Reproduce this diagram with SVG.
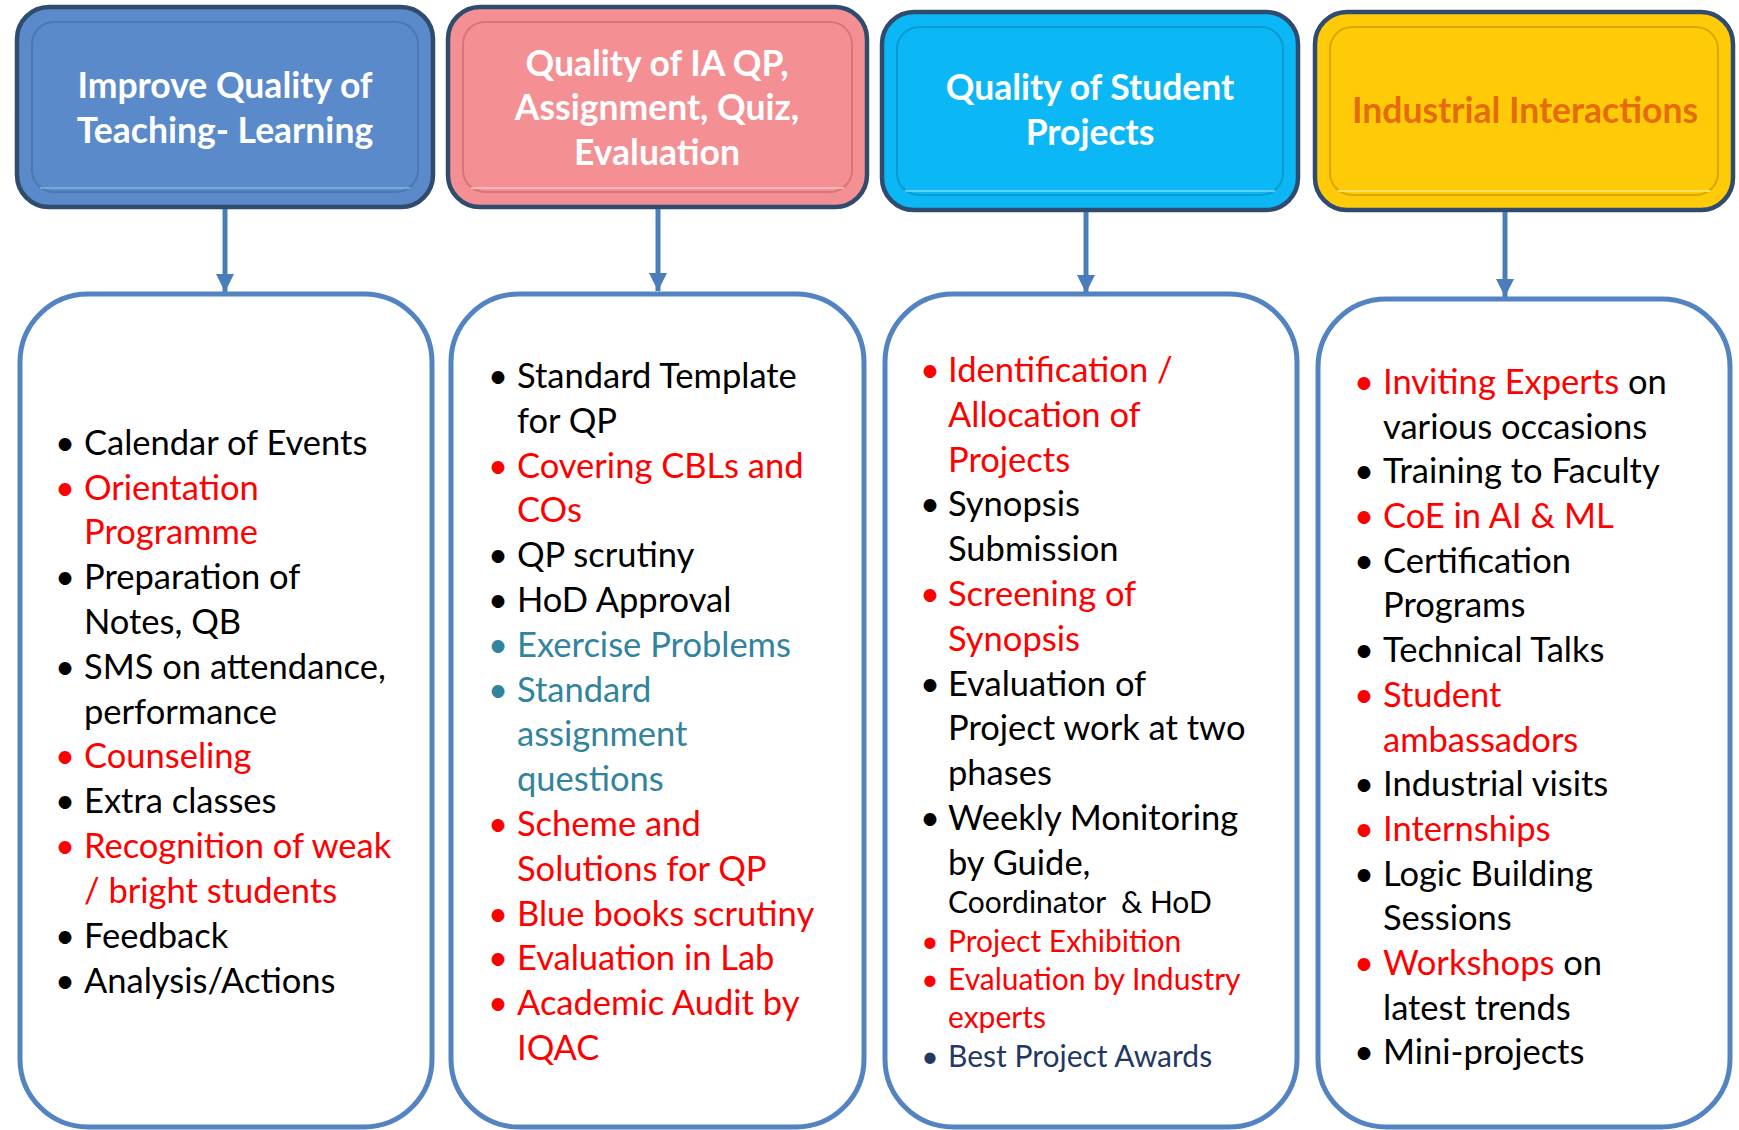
<svg xmlns="http://www.w3.org/2000/svg" width="1739" height="1130" viewBox="0 0 1739 1130">
<defs>
<style>
.hdr-outer{stroke:#2F4B6E;stroke-width:4.5}
.hdr-inner{fill:none;stroke-width:2}
.htxt{font-family:Lato,"Open Sans",sans-serif;font-weight:bold;font-size:35.5px;text-anchor:middle;fill:#FFFFFF}
.body{fill:#FFFFFF;stroke:#5384C1;stroke-width:5}
.t{font-family:Lato,"Open Sans",sans-serif;font-size:34.5px;fill:#000000}
.s{font-size:30px}
.b{text-anchor:middle}
.red{fill:#FF0000}
.teal{fill:#31849B}
.navy{fill:#1F3864}
.conn{stroke:#4A7EBB;stroke-width:5;fill:none}
</style>
<marker id="ah" markerUnits="userSpaceOnUse" markerWidth="20" markerHeight="18" refX="18" refY="9" orient="auto">
<path d="M0,0 L18,9 L0,18 Z" fill="#4A7EBB"/>
</marker>
</defs>
<rect width="1739" height="1130" fill="#FFFFFF"/>

<g id="header1">
<rect class="hdr-outer" x="17" y="7" width="416" height="200" rx="32" fill="#5A8ACA"/>
<rect class="hdr-inner" x="32" y="22" width="386" height="170" rx="22" stroke="#4A78B0"/>
<path d="M40,188 L410,188" stroke="#8DB3E2" stroke-width="2" opacity="0.7"/>
<text class="htxt" x="225" y="98">Improve Quality of</text>
<text class="htxt" x="225" y="143">Teaching- Learning</text>
</g>
<g id="header2">
<rect class="hdr-outer" x="448" y="7" width="419" height="200" rx="32" fill="#F49094"/>
<rect class="hdr-inner" x="463" y="22" width="389" height="170" rx="22" stroke="#D97579"/>
<path d="M471,188 L844,188" stroke="#FBC4C6" stroke-width="2" opacity="0.8"/>
<text class="htxt" x="657" y="76">Quality of IA QP,</text>
<text class="htxt" x="657" y="120">Assignment, Quiz,</text>
<text class="htxt" x="657" y="165">Evaluation</text>
</g>
<g id="header3">
<rect class="hdr-outer" x="882" y="12" width="416" height="198" rx="32" fill="#0BB8F5"/>
<rect class="hdr-inner" x="897" y="27" width="386" height="168" rx="22" stroke="#0A9AD0"/>
<path d="M905,191 L1275,191" stroke="#6FD8FF" stroke-width="2" opacity="0.8"/>
<text class="htxt" x="1090" y="100">Quality of Student</text>
<text class="htxt" x="1090" y="145">Projects</text>
</g>
<g id="header4">
<rect class="hdr-outer" x="1315" y="12" width="418" height="198" rx="32" fill="#FFCA08"/>
<rect class="hdr-inner" x="1330" y="27" width="388" height="168" rx="22" stroke="#D9A800"/>
<path d="M1338,191 L1710,191" stroke="#FFE36A" stroke-width="2" opacity="0.9"/>
<text class="htxt" x="1525" y="123" style="fill:#E46C0A">Industrial Interactions</text>
</g>

<g id="connectors">
<line class="conn" x1="225" y1="209" x2="225" y2="292" marker-end="url(#ah)"/>
<line class="conn" x1="658" y1="209" x2="658" y2="291" marker-end="url(#ah)"/>
<line class="conn" x1="1086" y1="212" x2="1086" y2="293" marker-end="url(#ah)"/>
<line class="conn" x1="1505" y1="212" x2="1505" y2="297" marker-end="url(#ah)"/>
</g>

<g id="list1">
<rect class="body" x="20" y="294" width="412" height="833" rx="68"/>
<g class="t">
<text class="b" x="65" y="455">•</text><text x="84" y="455">Calendar of Events</text>
<text class="b red" x="65" y="500">•</text><text class="red" x="84" y="500">Orientation</text>
<text class="red" x="84" y="544">Programme</text>
<text class="b" x="65" y="589">•</text><text x="84" y="589">Preparation of</text>
<text x="84" y="634">Notes, QB</text>
<text class="b" x="65" y="679">•</text><text x="84" y="679">SMS on attendance,</text>
<text x="84" y="724">performance</text>
<text class="b red" x="65" y="768">•</text><text class="red" x="84" y="768">Counseling</text>
<text class="b" x="65" y="813">•</text><text x="84" y="813">Extra classes</text>
<text class="b red" x="65" y="858">•</text><text class="red" x="84" y="858">Recognition of weak</text>
<text class="red" x="84" y="903">/ bright students</text>
<text class="b" x="65" y="948">•</text><text x="84" y="948">Feedback</text>
<text class="b" x="65" y="993">•</text><text x="84" y="993">Analysis/Actions</text>
</g>
</g>

<g id="list2">
<rect class="body" x="451" y="294" width="413" height="833" rx="68"/>
<g class="t">
<text class="b" x="498" y="388">•</text><text x="517" y="388">Standard Template</text>
<text x="517" y="433">for QP</text>
<text class="b red" x="498" y="478">•</text><text class="red" x="517" y="478">Covering CBLs and</text>
<text class="red" x="517" y="522">COs</text>
<text class="b" x="498" y="567">•</text><text x="517" y="567">QP scrutiny</text>
<text class="b" x="498" y="612">•</text><text x="517" y="612">HoD Approval</text>
<text class="b teal" x="498" y="657">•</text><text class="teal" x="517" y="657">Exercise Problems</text>
<text class="b teal" x="498" y="702">•</text><text class="teal" x="517" y="702">Standard</text>
<text class="teal" x="517" y="746">assignment</text>
<text class="teal" x="517" y="791">questions</text>
<text class="b red" x="498" y="836">•</text><text class="red" x="517" y="836">Scheme and</text>
<text class="red" x="517" y="881">Solutions for QP</text>
<text class="b red" x="498" y="926">•</text><text class="red" x="517" y="926">Blue books scrutiny</text>
<text class="b red" x="498" y="970">•</text><text class="red" x="517" y="970">Evaluation in Lab</text>
<text class="b red" x="498" y="1015">•</text><text class="red" x="517" y="1015">Academic Audit by</text>
<text class="red" x="517" y="1060">IQAC</text>
</g>
</g>

<g id="list3">
<rect class="body" x="885" y="294" width="412" height="833" rx="68"/>
<g class="t">
<text class="b red" x="930" y="382">•</text><text class="red" x="948" y="382">Identification /</text>
<text class="red" x="948" y="427">Allocation of</text>
<text class="red" x="948" y="472">Projects</text>
<text class="b" x="930" y="516">•</text><text x="948" y="516">Synopsis</text>
<text x="948" y="561">Submission</text>
<text class="b red" x="930" y="606">•</text><text class="red" x="948" y="606">Screening of</text>
<text class="red" x="948" y="651">Synopsis</text>
<text class="b" x="930" y="696">•</text><text x="948" y="696">Evaluation of</text>
<text x="948" y="740">Project work at two</text>
<text x="948" y="785">phases</text>
<text class="b" x="930" y="830">•</text><text x="948" y="830">Weekly Monitoring</text>
<text x="948" y="875">by Guide,</text>
<text class="s" x="948" y="913" xml:space="preserve">Coordinator  &amp; HoD</text>
<text class="s b red" x="930" y="952">•</text><text class="s red" x="948" y="952">Project Exhibition</text>
<text class="s b red" x="930" y="990">•</text><text class="s red" x="948" y="990">Evaluation by Industry</text>
<text class="s red" x="948" y="1028">experts</text>
<text class="s b navy" x="930" y="1067">•</text><text class="s navy" x="948" y="1067">Best Project Awards</text>
</g>
</g>

<g id="list4">
<rect class="body" x="1318" y="299" width="412" height="828" rx="68"/>
<g class="t">
<text class="b red" x="1364" y="394">•</text><text x="1383" y="394"><tspan class="red">Inviting Experts</tspan> on</text>
<text x="1383" y="439">various occasions</text>
<text class="b" x="1364" y="483">•</text><text x="1383" y="483">Training to Faculty</text>
<text class="b red" x="1364" y="528">•</text><text class="red" x="1383" y="528">CoE in AI &amp; ML</text>
<text class="b" x="1364" y="573">•</text><text x="1383" y="573">Certification</text>
<text x="1383" y="617">Programs</text>
<text class="b" x="1364" y="662">•</text><text x="1383" y="662">Technical Talks</text>
<text class="b red" x="1364" y="707">•</text><text class="red" x="1383" y="707">Student</text>
<text class="red" x="1383" y="752">ambassadors</text>
<text class="b" x="1364" y="796">•</text><text x="1383" y="796">Industrial visits</text>
<text class="b red" x="1364" y="841">•</text><text class="red" x="1383" y="841">Internships</text>
<text class="b" x="1364" y="886">•</text><text x="1383" y="886">Logic Building</text>
<text x="1383" y="930">Sessions</text>
<text class="b red" x="1364" y="975">•</text><text x="1383" y="975"><tspan class="red">Workshops</tspan> on</text>
<text x="1383" y="1020">latest trends</text>
<text class="b" x="1364" y="1064">•</text><text x="1383" y="1064">Mini-projects</text>
</g>
</g>
</svg>
